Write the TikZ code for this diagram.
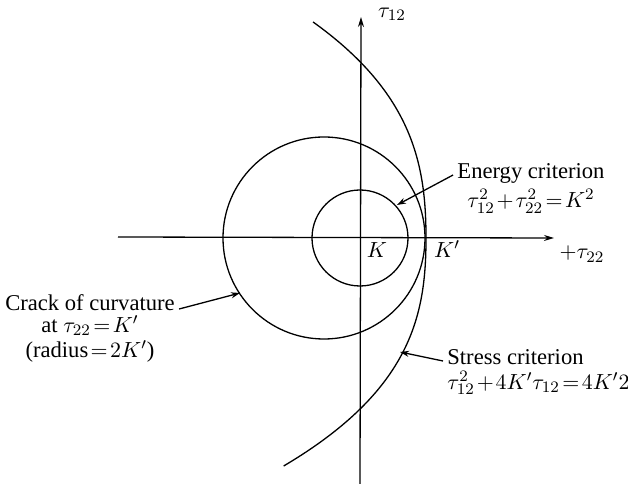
\documentclass[tikz,border=0pt]{standalone}
\usepackage{fontspec}
\setmainfont{Liberation Serif}
\usetikzlibrary{arrows.meta,positioning}
\everymath{\medmuskip=1.5mu\relax\thickmuskip=2mu\relax}
\tikzset{
  curve/.style={line width=0.65pt},
  axis/.style={line width=0.65pt, -{Stealth[length=5pt, width=3pt]}},
  parr/.style={-{Stealth[length=4.5pt, width=3pt]}, line width=0.65pt},
  lab/.style={inner sep=0pt, font=\fontsize{11.3}{13}\selectfont},
}
\begin{document}
\begin{tikzpicture}[x=0.5pt, y=-0.5pt]
  \useasboundingbox (0,0) rectangle (628,486);
  \coordinate (O) at (360,238);
  \coordinate (C) at (324,238);
  \coordinate (xl) at (118,237);\coordinate (xr) at (554,238);
  \coordinate (yb) at (360,484);\coordinate (yt) at (361,17);
  \draw[axis](xl)--(xr);\draw[axis](yb)--(yt);
  % circles and stress curve
  \draw[curve](O) circle[radius=48];
  \draw[curve](C) circle[radius=101];
  \draw[curve] plot[domain=-216:228, samples=90, smooth]
    ({426-8*(\x/100)^2-ifthenelse(\x<0,7.5,8.5)*(abs(\x)/100)^3}, {238+\x});
  % axis labels
  \node[lab](t12) at (392,14) {$\tau_{12}$};
  \node[lab](t22) at (582,254) {$+\tau_{22}$};
  \node[lab](k) at (377,250) {$K$};
  \node[lab](kp) at (447,249) {$K'$};
  % labels
  \node[lab](energy) at (531,173) {Energy criterion};
  \node[lab,below=2.8pt of energy](energyeq) {$\tau_{12}^2+\tau_{22}^2=K^2$};
  \node[lab](crack) at (90,303) {Crack of curvature};
  \node[lab,below=1.8pt of crack](crackat) {at $\tau_{22}=K'$};
  \node[lab,below=2pt of crackat](crackr) {(radius${}=2K'$)};
  \node[lab,anchor=west](stress) at (447,357) {Stress criterion};
  \node[lab,below=2.8pt of stress.south west,anchor=north west](stresseq) {$\tau_{12}^2+4K'\tau_{12}=4K'2$};
  \coordinate (etip) at (397,205);
  \coordinate (ctip) at (240,293);
  \coordinate (stip) at (400,352);
  \draw[parr]([xshift=-2pt,yshift=-1pt]energy.west)--(etip);
  \draw[parr]([xshift=2pt,yshift=-3pt]crack.east)--(ctip);
  \draw[parr]([xshift=-2pt,yshift=-2pt]stress.west)--(stip);
\end{tikzpicture}
\end{document}
